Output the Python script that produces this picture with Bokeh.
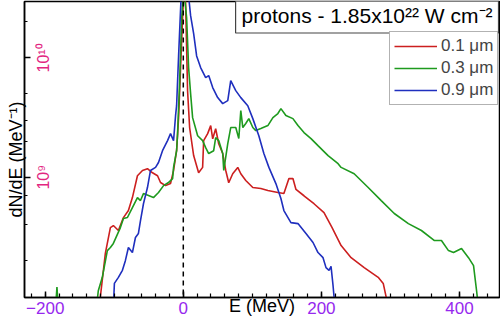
import math
from bokeh.plotting import figure
from bokeh.models import (Span, Label, Legend, LegendItem, FixedTicker,
                          SingleIntervalTicker, Range1d)
from bokeh.embed import file_html
from bokeh.resources import INLINE

# ---------------- data ----------------
e_01 = [-121, -112.9, -105.6, -101.3, -94.0, -86.7, -79.5, -73.7, -66.4, -59.1, -51.9, -44.6,
        -37.3, -33.0, -25.7, -18.5, -14.1, -9.7, -6.8, -3.9, -1.0, 1.2, 3.3, 6.2, 9.2, 15.0,
        22.2, 28.0, 29.5, 35.3, 39.7, 42.6, 46.9, 51.3, 57.1, 61.5, 65.8, 71.6, 78.9, 83.3,
        90.5, 100.7, 112.3, 122.5, 137.0, 145.7, 153.0, 158.8, 163.2, 174.8, 189.3, 203.8,
        215.5, 228.6, 243.1, 262.0, 282.3, 289.6, 295.4]
n_01 = [9.0e7, 2.30e8, 3.79e8, 3.94e8, 3.58e8, 4.59e8, 5.26e8, 6.76e8, 1.03e9, 1.14e9, 1.18e9,
        1.09e9, 1.03e9, 9.03e8, 8.51e8, 8.85e8, 1.14e9, 1.67e9, 3.16e9, 8.3e9, 2.18e10, 4.0e10,
        3.0e10, 5.3e9, 2.6e9, 1.52e9, 1.09e9, 1.21e9, 2.03e9, 2.32e9, 2.71e9, 2.1e9, 2.55e9,
        1.91e9, 1.58e9, 1.14e9, 9.0e8, 1.07e9, 1.21e9, 1.07e9, 9.4e8, 8.2e8, 8.05e8, 7.74e8,
        7.45e8, 7.3e8, 9.75e8, 9.75e8, 7.9e8, 7.0e8, 6.0e8, 5.06e8, 3.79e8, 2.68e8, 2.12e8,
        1.75e8, 1.45e8, 1.29e8, 9.0e7]

e_03 = [-185, -183, -181, -126, -123.1, -117.3, -110.0, -105.6, -101.3, -91.1, -86.7, -80.9,
        -73.7, -66.4, -62.0, -57.7, -50.4, -43.2, -35.9, -28.6, -21.4, -15.5, -14.1, -9.7,
        -8.3, -5.4, -2.5, 0.4, 4.8, 7.7, 10.6, 13.5, 20.8, 28.0, 32.4, 36.8, 44.0, 46.9, 51.3,
        57.1, 58.6, 64.4, 68.7, 76.0, 80.4, 83.3, 86.2, 90.5, 94.9, 100.7, 105.0, 112.3, 122.5,
        129.8, 137.0, 141.4, 148.6, 158.8, 166.1, 174.8, 185.0, 195.1, 209.7, 224.2, 228.6,
        247.5, 267.8, 286.7, 305.6, 326.0, 344.9, 363.8, 373.9, 384.1, 391.4, 403.0, 413.1,
        420.4, 424.8, 427.6]
n_03 = [8.0e7, 1.2e8, 8.0e7, 8.0e7, 1.12e8, 1.45e8, 2.43e8, 2.58e8, 2.79e8, 3.79e8, 4.51e8,
        4.6e8, 5.57e8, 6.76e8, 6.38e8, 7.3e8, 7.03e8, 6.76e8, 7.45e8, 8.51e8, 9.03e8, 9.75e8,
        1.21e9, 1.67e9, 2.32e9, 6.09e9, 2.05e10, 4.0e10, 2.18e10, 8.3e9, 5.02e9, 3.16e9,
        2.23e9, 2.03e9, 1.77e9, 1.58e9, 1.67e9, 2.15e9, 2.03e9, 1.58e9, 1.14e9, 1.91e9,
        2.61e9, 2.61e9, 2.11e9, 3.62e9, 2.61e9, 2.82e9, 3.1e9, 2.61e9, 2.46e9, 2.56e9, 2.71e9,
        3.16e9, 3.42e9, 3.76e9, 3.29e9, 3.1e9, 2.71e9, 2.37e9, 2.11e9, 1.84e9, 1.52e9, 1.30e9,
        1.21e9, 1.07e9, 8.2e8, 6.38e8, 4.97e8, 4.09e8, 3.58e8, 2.95e8, 2.95e8, 2.43e8, 2.34e8,
        2.53e8, 2.12e8, 1.82e8, 1.12e8, 8.0e7]

e_09 = [-101.3, -99.8, -94.0, -88.2, -83.9, -79.5, -73.7, -69.3, -65.0, -62.0, -57.7, -51.9,
        -47.5, -40.2, -35.9, -30.1, -22.8, -18.5, -14.1, -11.2, -9.7, -6.8, -2.5, 6.2, 10.6,
        15.0, 19.3, 25.1, 32.4, 36.8, 42.6, 49.8, 57.1, 64.4, 68.7, 76.0, 83.3, 93.4, 100.7,
        109.4, 116.7, 124.0, 134.1, 141.4, 145.7, 155.9, 166.1, 177.7, 187.9, 195.1, 202.4,
        206.7, 211.1, 214.0, 216.9, 219.8]
n_09 = [8.0e7, 1.29e8, 1.45e8, 1.66e8, 2.0e8, 2.58e8, 2.34e8, 3.13e8, 3.38e8, 4.34e8, 6.0e8,
        8.2e8, 1.14e9, 1.21e9, 1.33e9, 1.67e9, 2.03e9, 2.32e9, 2.03e9, 3.28e9, 3.98e9, 1.04e10,
        4.0e10, 4.0e10, 2.26e10, 1.6e10, 1.04e10, 8.3e9, 6.84e9, 7.11e9, 5.64e9, 4.65e9,
        4.14e9, 4.39e9, 6.45e9, 5.32e9, 4.65e9, 3.98e9, 3.1e9, 2.23e9, 1.58e9, 1.21e9, 8.85e8,
        6.64e8, 5.26e8, 4.17e8, 4.09e8, 3.38e8, 2.84e8, 2.34e8, 2.12e8, 1.75e8, 1.66e8,
        1.79e8, 1.24e8, 8.0e7]

series_names = ["0.1 μm", "0.3 μm", "0.9 μm"]
x_ticks = [-200, 0, 200, 400]
y_ticks = [1e9, 1e10]
y_tick_labels = ["10⁹", "10¹⁰"]
y_minor = [2e8, 4e8, 7e8, 2e9, 3e9, 5e9, 2e10]
title_text = "protons - 1.85x10²² W cm⁻²"
x_title = "E (MeV)"
y_title = "dN/dE (MeV⁻¹)"

FONT = "Liberation Sans"
RED, GREEN, BLUE = "#CC1F1F", "#1E9A1E", "#1F2FBE"
PURPLE, PINK = "#9628EE", "#E2257F"

p = figure(width=500, height=321, output_backend="svg", toolbar_location=None,
           y_axis_type="log", x_range=Range1d(-230, 458), y_range=Range1d(9.83e7, 2.97e10),
           min_border_left=24, min_border_right=1, min_border_top=1, min_border_bottom=24,
           styles={"position": "absolute", "top": "0px", "left": "0px"})
p.grid.visible = False
p.outline_line_color = "black"
p.outline_line_width = 1.5
p.background_fill_color = "white"
p.border_fill_color = "white"

# x axis
xa = p.xaxis[0]
xa.ticker = SingleIntervalTicker(interval=200, num_minor_ticks=10)
xa.major_tick_in = 6
xa.major_tick_out = 0
xa.minor_tick_in = 4
xa.minor_tick_out = 0
xa.axis_line_width = 1.5
xa.major_tick_line_width = 1.5
xa.minor_tick_line_width = 1.2
xa.major_label_text_color = PURPLE
xa.major_label_text_font = FONT
xa.major_label_text_font_size = "17px"
xa.major_label_standoff = 4
xa.axis_label = x_title
xa.axis_label_text_font = FONT
xa.axis_label_text_font_size = "18px"
xa.axis_label_text_font_style = "normal"
xa.axis_label_text_color = "black"
xa.axis_label_standoff = -21

# y axis (its tick labels are drawn inside the frame below)
ya = p.yaxis[0]
ya.ticker = FixedTicker(ticks=y_ticks, minor_ticks=y_minor)
ya.major_tick_in = 6
ya.major_tick_out = 0
ya.minor_tick_in = 3
ya.minor_tick_out = 0
ya.axis_line_width = 1.5
ya.major_tick_line_width = 1.5
ya.minor_tick_line_width = 1.2
ya.major_label_text_font_size = "2px"
ya.major_label_text_alpha = 0
ya.major_label_standoff = 0
ya.axis_label = y_title + "\u00a0\u00a0\u00a0\u00a0"
ya.axis_label_text_font = FONT
ya.axis_label_text_font_size = "18px"
ya.axis_label_text_font_style = "normal"
ya.axis_label_text_color = "black"
ya.axis_label_standoff = -1

# curves
r1 = p.line(e_01, n_01, line_color=RED, line_width=1.6)
r2 = p.line(e_03, n_03, line_color=GREEN, line_width=1.6)
r3 = p.line(e_09, n_09, line_color=BLUE, line_width=1.6)

p.add_layout(Span(location=0, dimension="height", line_color="black",
                  line_dash="5 4", line_width=1.5))

# y tick labels inside the frame
for v, t in zip(y_ticks, y_tick_labels):
    p.add_layout(Label(x=19, y=v, x_units="screen", y_units="data", text=t,
                       angle=math.pi / 2, text_align="center", text_baseline="middle",
                       text_color=PINK, text_font=FONT, text_font_size="16px"))

# title box
p.add_layout(Label(x=474, y=282, x_units="screen", y_units="screen", text=title_text,
                   text_align="right", text_baseline="middle", text_color="black",
                   text_font=FONT, text_font_size="21px",
                   background_fill_color="white", border_line_color="#444444",
                   border_line_width=1.2, padding=6))

legend = Legend(items=[LegendItem(label=series_names[0], renderers=[r1]),
                       LegendItem(label=series_names[1], renderers=[r2]),
                       LegendItem(label=series_names[2], renderers=[r3])],
                location=(365, 192), glyph_width=43, label_standoff=4, padding=4,
                spacing=2, label_height=20, glyph_height=20, margin=0,
                label_text_font=FONT, label_text_font_size="17px",
                border_line_color="#666666", border_line_width=1.2,
                background_fill_alpha=1.0)
p.add_layout(legend)

open("out.html", "w").write(file_html(p, INLINE))
